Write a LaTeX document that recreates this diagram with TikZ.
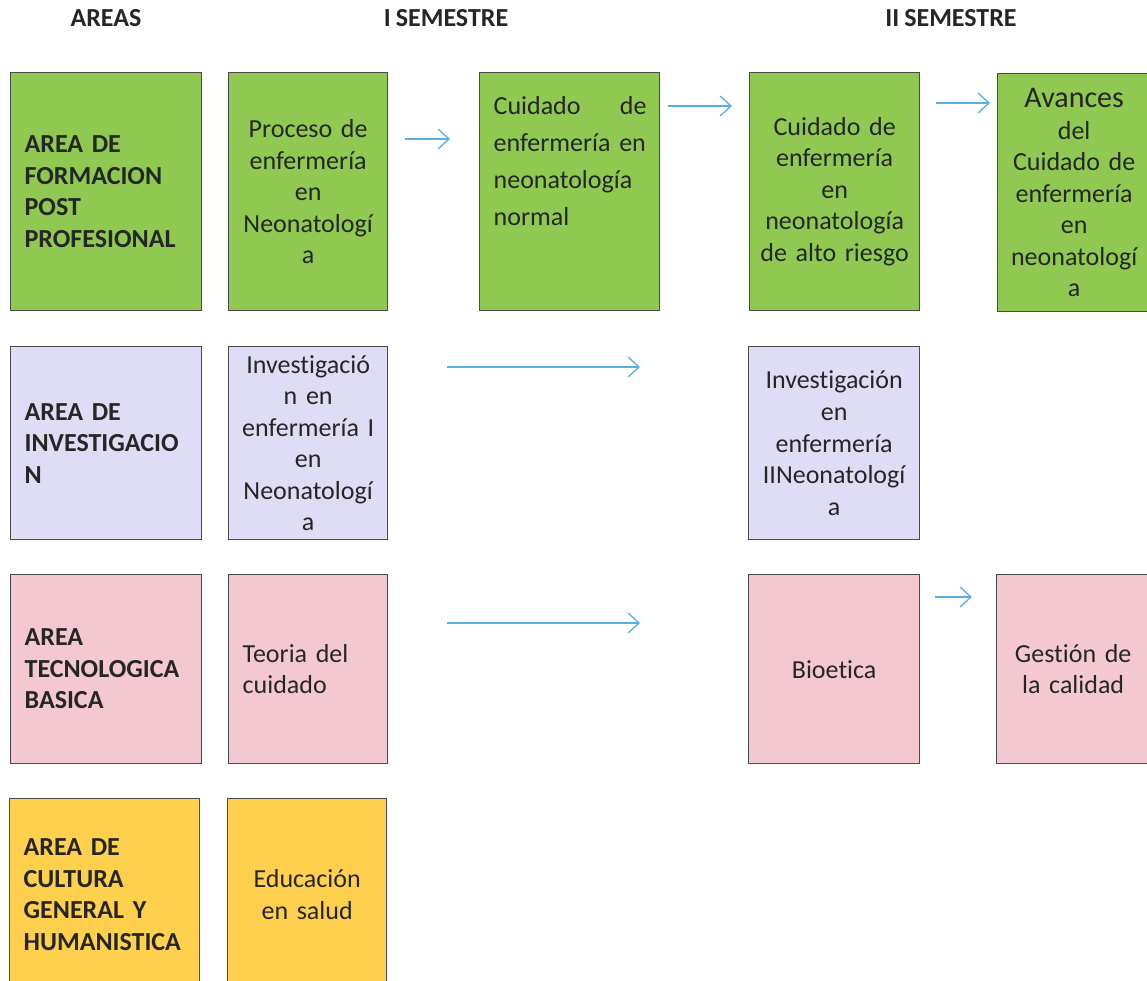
\documentclass[tikz,border=0pt]{standalone}
\usepackage{fontspec}
\setmainfont{Carlito}[Ligatures=NoCommon, WordSpace=0.85]
\usetikzlibrary{arrows.meta}
\definecolor{grn}{HTML}{8FC951}
\definecolor{lav}{HTML}{DEDDF5}
\definecolor{pnk}{HTML}{F4C8D0}
\definecolor{ylw}{HTML}{FFD04E}
\definecolor{bordc}{HTML}{4A4A4A}
\definecolor{txtc}{HTML}{262626}
\definecolor{arrc}{HTML}{5AAEE6}
\newcommand\fsz{\fontsize{26}{31.5}\selectfont}
\tikzset{
  cell/.style={draw=bordc, line width=1.3pt, inner sep=0pt, text=txtc, font=\fsz, anchor=north west},
  areacell/.style={cell, align=left, font=\fsz\bfseries},
  ccell/.style={cell, align=center},
  lcell/.style={cell, align=left},
  fillg/.style={fill=grn}, filll/.style={fill=lav}, fillp/.style={fill=pnk}, filly/.style={fill=ylw},
  arr/.style={draw=arrc, line width=1.3pt, -{Straight Barb[length=11pt,width=20pt]}},
  head/.style={font=\fsz\bfseries, text=txtc, anchor=base, inner sep=0pt}
}
\begin{document}
\begin{tikzpicture}[x=1pt,y=-1pt]
\useasboundingbox (0,0) rectangle (1147,981);
\fill[white] (0,0) rectangle (1147,981);
\clip (0,0) rectangle (1147,981);
% headers
\node[head] (h1) at (106,27) {AREAS};
\node[head] (h2) at (446,27) {I SEMESTRE};
\node[head] (h3) at (951,27) {II SEMESTRE};
% row 1
\node[areacell, fillg, minimum width=191pt, minimum height=238pt, text width=163pt] (a1) at (10,72) {AREA DE\\FORMACION\\POST\\PROFESIONAL};
\node[ccell, fillg, minimum width=159pt, minimum height=238pt, text width=150pt] (p1) at (228,72) {Proceso de\\enfermería\\en\\Neonatologí\\a};
\node[cell, fillg, minimum width=180pt, minimum height=238pt] (c1) at (479,72) {};
\node[lcell, anchor=north west, text width=153pt, font=\fontsize{26}{37}\selectfont, draw=none] (c1t) at ([xshift=14pt,yshift=-24pt]c1.north west) {\hbox to 153pt{Cuidado\hfill de}\\enfermería en\\neonatología\\normal};
\node[ccell, fillg, minimum width=170pt, minimum height=238pt, text width=165pt] (r1) at (749,72) {Cuidado de\\enfermería\\en\\neonatología\\de alto riesgo};
\node[ccell, fillg, minimum width=153pt, minimum height=238pt, text width=148pt] (v1) at (997,73) {{\fontsize{30}{31.5}\selectfont Avances}\\del\\Cuidado de\\enfermería\\en\\neonatologí\\a};
% row 2
\node[areacell, filll, minimum width=191pt, minimum height=193pt, text width=163pt] (a2) at (10,346) {AREA DE\\INVESTIGACIO\\N};
\node[ccell, filll, minimum width=159pt, minimum height=193pt, text width=150pt] (p2) at (228,346) {Investigació\\n en\\enfermería I\\en\\Neonatologí\\a};
\node[ccell, filll, minimum width=171pt, minimum height=193pt, text width=165pt] (i2) at (748,346) {Investigación\\en\\enfermería\\IINeonatologí\\a};
% row 3
\node[areacell, fillp, minimum width=191pt, minimum height=189pt, text width=163pt] (a3) at (10,574) {AREA\\TECNOLOGICA\\BASICA};
\node[lcell, fillp, minimum width=159pt, minimum height=189pt, text width=131pt] (p3) at (228,574) {Teoria del\\cuidado};
\node[ccell, fillp, minimum width=171pt, minimum height=189pt, text width=165pt] (b3) at (748,574) {Bioetica};
\node[ccell, fillp, minimum width=153pt, minimum height=189pt, text width=148pt] (g3) at (996,574) {Gestión de\\la calidad};
% row 4
\node[areacell, filly, minimum width=190pt, minimum height=192pt, text width=162pt] (a4) at (9,798) {AREA DE\\CULTURA\\GENERAL Y\\HUMANISTICA};
\node[ccell, filly, minimum width=159pt, minimum height=192pt, text width=150pt] (p4) at (227,798) {Educación\\en salud};
% arrows
\coordinate (a1s) at (405,139); \coordinate (a1e) at (450,139);
\coordinate (a2s) at (668,106); \coordinate (a2e) at (732,106);
\coordinate (a3s) at (936,103); \coordinate (a3e) at (990,103);
\coordinate (a4s) at (447,367); \coordinate (a4e) at (640,367);
\coordinate (a5s) at (447,623); \coordinate (a5e) at (640,623);
\coordinate (a6s) at (935,597); \coordinate (a6e) at (972,597);
\draw[arr] (a1s) -- (a1e);
\draw[arr] (a2s) -- (a2e);
\draw[arr] (a3s) -- (a3e);
\draw[arr] (a4s) -- (a4e);
\draw[arr] (a5s) -- (a5e);
\draw[arr] (a6s) -- (a6e);
\end{tikzpicture}
\end{document}
